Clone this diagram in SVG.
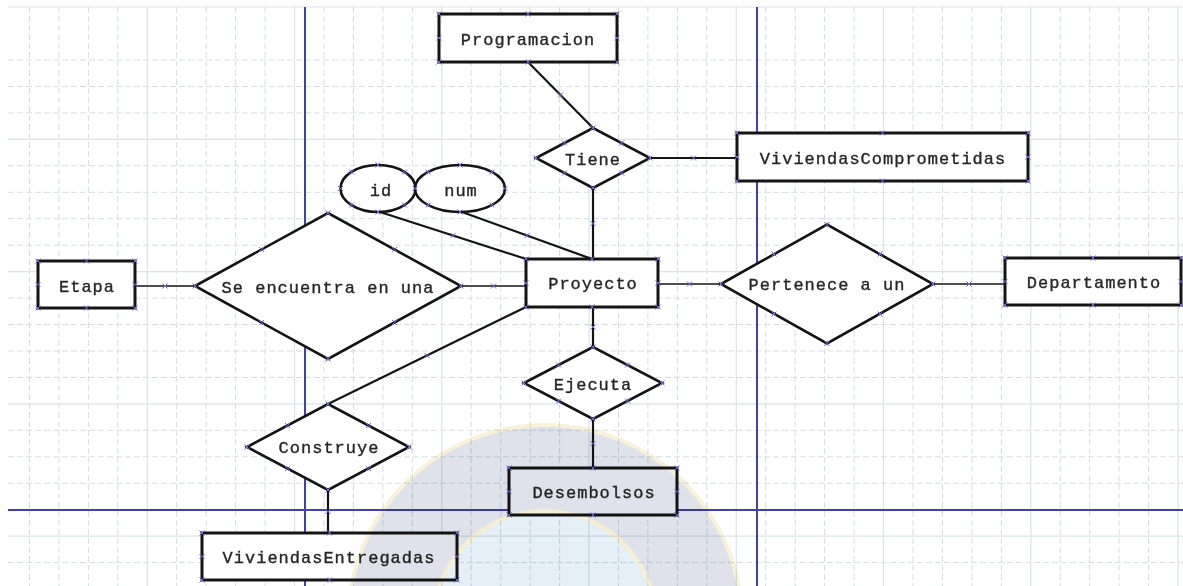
<svg xmlns="http://www.w3.org/2000/svg" width="1183" height="586" viewBox="0 0 1183 586">
<style>
.gmin{stroke:#d2dfdf;stroke-width:1;stroke-dasharray:6,3;fill:none}
.gmaj{stroke:#dae4e4;stroke-width:1.2;fill:none}
.blue{stroke:#4040b4;stroke-width:2;fill:none}
.ent{fill:#fff;stroke:#141414;stroke-width:3}
.rel{fill:#fff;stroke:#141414;stroke-width:2.6;stroke-linejoin:miter}
.att{fill:#fff;stroke:#141414;stroke-width:2.6}
.con{stroke:#141414;stroke-width:2.2;fill:none}
.thin{stroke:#141414;stroke-width:1.6;fill:none}
.t{font-family:"Liberation Mono","DejaVu Sans Mono",monospace;font-size:17px;letter-spacing:1px;fill:#262626;stroke:#262626;stroke-width:0.35px;text-anchor:middle}
</style>
<defs>
<path id="x" d="M-2.5,-2.5L2.5,2.5M-2.5,2.5L2.5,-2.5" stroke="#6a6ad8" stroke-width="1" fill="none"/>
</defs>
<rect width="1183" height="586" fill="#fff"/>
<g id="grid">
<path class="gmin" d="M29.5,7V586M58.9,7V586M88.4,7V586M117.8,7V586M176.7,7V586M206.2,7V586M235.6,7V586M265.1,7V586M324,7V586M353.4,7V586M382.9,7V586M412.3,7V586M471.2,7V586M500.7,7V586M530.1,7V586M559.6,7V586M618.5,7V586M647.9,7V586M677.4,7V586M706.8,7V586M765.7,7V586M795.2,7V586M824.6,7V586M854.1,7V586M913,7V586M942.4,7V586M971.9,7V586M1001.3,7V586M1060.2,7V586M1089.7,7V586M1119.1,7V586M1148.6,7V586"/>
<path class="gmin" d="M8,60H1183M8,86.4H1183M8,112.9H1183M8,165.8H1183M8,192.3H1183M8,218.7H1183M8,245.2H1183M8,298.1H1183M8,324.5H1183M8,351H1183M8,377.4H1183M8,430.3H1183M8,456.8H1183M8,483.2H1183M8,562.6H1183"/>
<path class="gmaj" d="M147.3,7V586M294.5,7V586M441.8,7V586M589,7V586M736.3,7V586M883.5,7V586M1030.8,7V586M1178,7V586"/>
<path class="gmaj" d="M8,7H1183M8,139.3H1183M8,271.6H1183M8,403.9H1183M8,536.2H1183"/>
<path class="blue" d="M305,7V586M757,7V586M8,510H1183"/>
</g>
<g id="connectors">
<path class="con" d="M528,62L593,128"/>
<path class="con" d="M650,158H737"/>
<path class="con" d="M593,188V259"/>
<path class="con" d="M380,212L526,259"/>
<path class="con" d="M462,212L592,259"/>
<path class="thin" d="M135,286H195"/>
<path class="thin" d="M461,286H526"/>
<path class="thin" d="M658,284H721"/>
<path class="thin" d="M933,284H1005"/>
<path class="con" d="M593,307V347"/>
<path class="con" d="M593,419V468"/>
<path class="con" d="M526,307L328,404"/>
<path class="con" d="M328,490V533"/>
<use href="#x" x="560.5" y="95"/><use href="#x" x="693.5" y="158"/><use href="#x" x="593" y="223.5"/>
<use href="#x" x="453" y="235.5"/><use href="#x" x="527" y="235.5"/><use href="#x" x="165" y="286"/>
<use href="#x" x="493.5" y="286"/><use href="#x" x="689.5" y="284"/><use href="#x" x="969" y="284"/>
<use href="#x" x="593" y="327"/><use href="#x" x="593" y="443.5"/><use href="#x" x="427" y="355.5"/>
<use href="#x" x="328" y="511.5"/>
</g>
<g id="programacion">
<rect class="ent" x="439" y="14" width="178" height="48"/>
<text class="t" x="528" y="45">Programacion</text>
<use href="#x" x="439" y="14"/><use href="#x" x="617" y="14"/><use href="#x" x="439" y="62"/><use href="#x" x="617" y="62"/>
<use href="#x" x="528" y="14"/><use href="#x" x="528" y="62"/><use href="#x" x="439" y="38"/><use href="#x" x="617" y="38"/>
</g>
<g id="tiene">
<polygon class="rel" points="536,158 593,128 650,158 593,188"/>
<text class="t" x="593" y="165">Tiene</text>
<use href="#x" x="536" y="158"/><use href="#x" x="650" y="158"/><use href="#x" x="593" y="128"/><use href="#x" x="593" y="188"/>
<use href="#x" x="564.5" y="143"/><use href="#x" x="621.5" y="143"/><use href="#x" x="564.5" y="173"/><use href="#x" x="621.5" y="173"/>
</g>
<g id="viviendascomprometidas">
<rect class="ent" x="737" y="133" width="291" height="48"/>
<text class="t" x="883" y="164">ViviendasComprometidas</text>
<use href="#x" x="737" y="133"/><use href="#x" x="1028" y="133"/><use href="#x" x="737" y="181"/><use href="#x" x="1028" y="181"/>
<use href="#x" x="882.5" y="133"/><use href="#x" x="882.5" y="181"/><use href="#x" x="737" y="157"/><use href="#x" x="1028" y="157"/>
</g>
<g id="id">
<ellipse class="att" cx="378" cy="188.5" rx="37.5" ry="23.5"/>
<text class="t" x="381" y="196">id</text>
<use href="#x" x="415.5" y="188.5"/><use href="#x" x="340.5" y="188.5"/><use href="#x" x="378" y="165"/><use href="#x" x="378" y="212"/>
<use href="#x" x="404.5" y="172"/><use href="#x" x="351.5" y="172"/><use href="#x" x="404.5" y="205"/><use href="#x" x="351.5" y="205"/>
</g>
<g id="num">
<ellipse class="att" cx="460" cy="188.5" rx="45" ry="23.5"/>
<text class="t" x="461" y="196">num</text>
<use href="#x" x="505" y="188.5"/><use href="#x" x="415" y="188.5"/><use href="#x" x="460" y="165"/><use href="#x" x="460" y="212"/>
<use href="#x" x="491.8" y="172"/><use href="#x" x="428.2" y="172"/><use href="#x" x="491.8" y="205"/><use href="#x" x="428.2" y="205"/>
</g>
<g id="etapa">
<rect class="ent" x="38" y="261" width="97" height="47"/>
<text class="t" x="87" y="292">Etapa</text>
<use href="#x" x="38" y="261"/><use href="#x" x="135" y="261"/><use href="#x" x="38" y="308"/><use href="#x" x="135" y="308"/>
<use href="#x" x="86.5" y="261"/><use href="#x" x="86.5" y="308"/><use href="#x" x="38" y="284.5"/><use href="#x" x="135" y="284.5"/>
</g>
<g id="se-encuentra">
<polygon class="rel" points="195,286 328,213 461,286 328,359"/>
<text class="t" x="328" y="293">Se encuentra en una</text>
<use href="#x" x="195" y="286"/><use href="#x" x="461" y="286"/><use href="#x" x="328" y="213"/><use href="#x" x="328" y="359"/>
<use href="#x" x="261.5" y="249.5"/><use href="#x" x="394.5" y="249.5"/><use href="#x" x="261.5" y="322.5"/><use href="#x" x="394.5" y="322.5"/>
</g>
<g id="proyecto">
<rect class="ent" x="526" y="259" width="132" height="48"/>
<text class="t" x="593" y="289">Proyecto</text>
<use href="#x" x="526" y="259"/><use href="#x" x="658" y="259"/><use href="#x" x="526" y="307"/><use href="#x" x="658" y="307"/>
<use href="#x" x="592" y="259"/><use href="#x" x="592" y="307"/><use href="#x" x="526" y="283"/><use href="#x" x="658" y="283"/>
</g>
<g id="pertenece">
<polygon class="rel" points="721,284 827,224.5 933,284 827,343.5"/>
<text class="t" x="827" y="290">Pertenece a un</text>
<use href="#x" x="721" y="284"/><use href="#x" x="933" y="284"/><use href="#x" x="827" y="224.5"/><use href="#x" x="827" y="343.5"/>
<use href="#x" x="774" y="254"/><use href="#x" x="880" y="254"/><use href="#x" x="774" y="314"/><use href="#x" x="880" y="314"/>
</g>
<g id="departamento">
<rect class="ent" x="1005" y="258" width="176" height="47"/>
<text class="t" x="1094" y="288">Departamento</text>
<use href="#x" x="1005" y="258"/><use href="#x" x="1181" y="258"/><use href="#x" x="1005" y="305"/><use href="#x" x="1181" y="305"/>
<use href="#x" x="1093" y="258"/><use href="#x" x="1093" y="305"/><use href="#x" x="1005" y="281.5"/><use href="#x" x="1181" y="281.5"/>
</g>
<g id="ejecuta">
<polygon class="rel" points="524,383 593,347 662,383 593,419"/>
<text class="t" x="593" y="390">Ejecuta</text>
<use href="#x" x="524" y="383"/><use href="#x" x="662" y="383"/><use href="#x" x="593" y="347"/><use href="#x" x="593" y="419"/>
<use href="#x" x="558.5" y="365"/><use href="#x" x="627.5" y="365"/><use href="#x" x="558.5" y="401"/><use href="#x" x="627.5" y="401"/>
</g>
<g id="desembolsos">
<rect class="ent" x="509" y="468" width="168" height="47"/>
<text class="t" x="594" y="498">Desembolsos</text>
<use href="#x" x="509" y="468"/><use href="#x" x="677" y="468"/><use href="#x" x="509" y="515"/><use href="#x" x="677" y="515"/>
<use href="#x" x="593" y="468"/><use href="#x" x="593" y="515"/><use href="#x" x="509" y="491.5"/><use href="#x" x="677" y="491.5"/>
</g>
<g id="construye">
<polygon class="rel" points="247,447 328,404 409,447 328,490"/>
<text class="t" x="329" y="453">Construye</text>
<use href="#x" x="247" y="447"/><use href="#x" x="409" y="447"/><use href="#x" x="328" y="404"/><use href="#x" x="328" y="490"/>
<use href="#x" x="287.5" y="425.5"/><use href="#x" x="368.5" y="425.5"/><use href="#x" x="287.5" y="468.5"/><use href="#x" x="368.5" y="468.5"/>
</g>
<g id="viviendasentregadas">
<rect class="ent" x="202" y="533" width="255" height="47"/>
<text class="t" x="329" y="563">ViviendasEntregadas</text>
<use href="#x" x="202" y="533"/><use href="#x" x="457" y="533"/><use href="#x" x="202" y="580"/><use href="#x" x="457" y="580"/>
<use href="#x" x="329.5" y="533"/><use href="#x" x="329.5" y="580"/><use href="#x" x="202" y="556.5"/><use href="#x" x="457" y="556.5"/>
</g>
<g id="watermark" style="mix-blend-mode:multiply">
<circle cx="545" cy="622" r="199" fill="#f8f2da"/>
<circle cx="545" cy="622" r="195" fill="#dfe2ea"/>
<circle cx="545" cy="622" r="113" fill="#f6efd2"/>
<circle cx="545" cy="622" r="109" fill="#e5eff8"/>
</g>
</svg>
